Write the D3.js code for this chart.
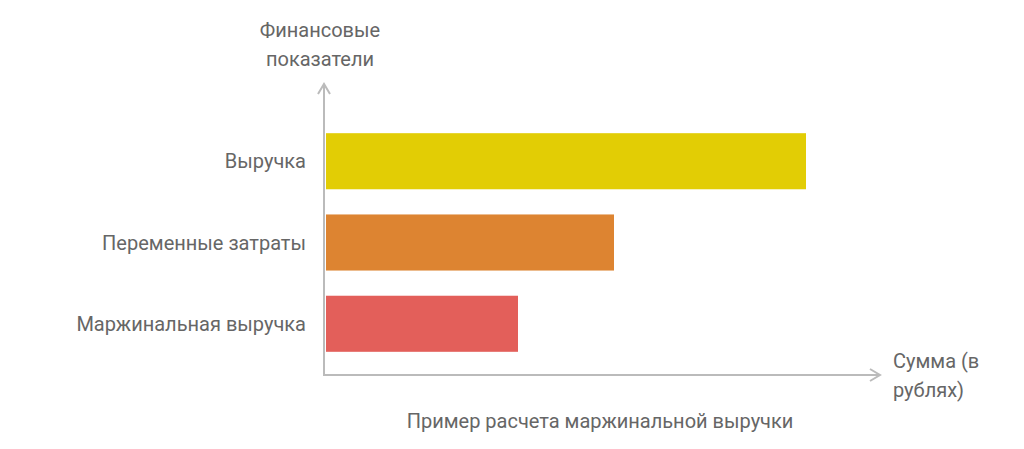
<!DOCTYPE html>
<html><head><meta charset="utf-8">
<script src="https://cdn.jsdelivr.net/npm/d3@7"></script>
<style>body{margin:0;background:#fff}text{font-family:Roboto,sans-serif;fill:#666}</style>
</head><body><svg id="c" width="1024" height="449"></svg>
<script>
var categories = ["Выручка", "Переменные затраты", "Маржинальная выручка"];
var values = [1000, 600, 400];
var colors = ["#E2CD05", "#DD8431", "#E35F5A"];

var svg = d3.select("#c");
var x = d3.scaleLinear().domain([0, 1000]).range([326, 806]);
var y = d3.scaleBand().domain(categories).range([121, 364]).paddingInner(0.31).paddingOuter(0.15);

// bars
svg.selectAll("rect.bar").data(categories).enter().append("rect")
    .attr("x", x(0)).attr("y", function (d) { return y(d); })
    .attr("width", function (d, i) { return x(values[i]) - x(0); })
    .attr("height", y.bandwidth())
    .attr("fill", function (d, i) { return colors[i]; });

// category labels
svg.selectAll("text.cat").data(categories).enter().append("text")
    .attr("x", 306).attr("y", function (d) { return y(d) + y.bandwidth() / 2; })
    .attr("dy", "0.35em").attr("text-anchor", "end").attr("font-size", 20)
    .text(function (d) { return d; });

// axes with arrows
var ax = svg.append("g").attr("stroke", "#bbb").attr("stroke-width", 2).attr("fill", "none");
ax.append("path").attr("d", "M324,376V84");
ax.append("path").attr("d", "M318,94L324,84L330,94");
ax.append("path").attr("d", "M323,375H880");
ax.append("path").attr("d", "M870,369L880,375L870,381");

svg.append("text").attr("x", 320).attr("y", 37).attr("text-anchor", "middle").attr("font-size", 20).text("Финансовые");
svg.append("text").attr("x", 320).attr("y", 66).attr("text-anchor", "middle").attr("font-size", 20).text("показатели");
svg.append("text").attr("x", 893).attr("y", 368).attr("font-size", 20).text("Сумма (в");
svg.append("text").attr("x", 893).attr("y", 397).attr("font-size", 20).text("рублях)");
svg.append("text").attr("x", 600).attr("y", 428).attr("text-anchor", "middle").attr("font-size", 20).text("Пример расчета маржинальной выручки");
</script></body></html>
